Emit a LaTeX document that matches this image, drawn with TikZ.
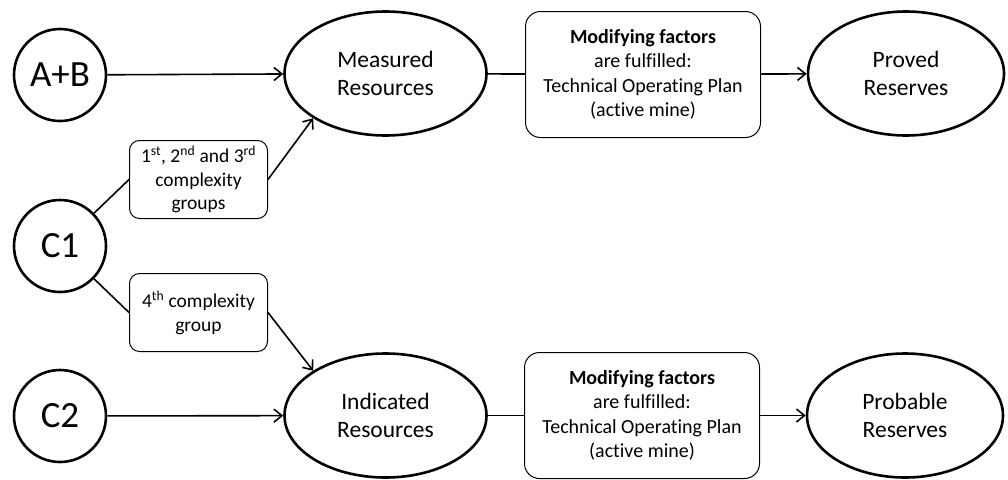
\documentclass[tikz,border=0pt]{standalone}
\usepackage{fontspec}
\setmainfont{Carlito}[Ligatures=NoCommon]
\usetikzlibrary{shapes.geometric,arrows.meta}
\begin{document}
\begin{tikzpicture}[x=1pt,y=-1pt,
  grade/.style={circle,draw,line width=2.6pt,minimum size=92pt,inner sep=0pt,font=\fontsize{37}{40}\selectfont},
  category/.style={ellipse,draw,line width=2.6pt,minimum width=202pt,minimum height=124pt,inner sep=0pt,align=center,font=\fontsize{23.5}{28}\selectfont},
  factorbox/.style={rectangle,draw,rounded corners=15pt,line width=1pt,minimum width=235pt,minimum height=126pt,align=center,font=\fontsize{20}{24.3}\selectfont},
  groupbox/.style={rectangle,draw,rounded corners=10pt,line width=1pt,minimum width=138pt,minimum height=78pt,align=center,font=\fontsize{19.5}{23.5}\selectfont},
  link/.style={line width=1.6pt},
  arrow/.style={link,-{Straight Barb[length=8pt,width=13pt]}}]
\useasboundingbox (0,0) rectangle (1008,479);
\clip (0,0) rectangle (1008,479);
% source grades
\node[grade] (ab) at (60,75){A+B};
\node[grade] (cone) at (60,246){C1};
\node[grade] (ctwo) at (60,416){C2};
% complexity groups
\node[groupbox] (grpA) at (198.5,179.5){1\textsuperscript{st}, 2\textsuperscript{nd} and 3\textsuperscript{rd}\\complexity\\groups};
\node[groupbox] (grpB) at (198.5,312.5){4\textsuperscript{th} complexity\\group};
% resources
\node[category] (meas) at (385.5,73.5){Measured\\Resources};
\node[category] (ind) at (385.5,415.5){Indicated\\Resources};
% modifying factors
\node[factorbox] (modtop) at (643,74.5){\textbf{Modifying factors}\\are fulfilled:\\Technical Operating Plan\\(active mine)};
\node[factorbox] (modbot) at (642,415.5){\textbf{Modifying factors}\\are fulfilled:\\Technical Operating Plan\\(active mine)};
% reserves
\node[category,minimum width=196pt] (proved) at (906,73.5){Proved\\Reserves};
\node[category,minimum width=196pt] (probable) at (905,415.5){Probable\\Reserves};
% connectors
\draw[arrow] (ab) -- (meas);
\draw[arrow] (ctwo) -- (ind);
\draw[link] (cone) -- (grpA.west);
\draw[arrow] (grpA.east) -- (meas.south west);
\draw[link] (cone) -- (grpB.west);
\draw[arrow] (grpB.east) -- (ind.north west);
\draw[link] (meas) -- (modtop);
\draw[arrow] (modtop) -- (proved);
\draw[link] (ind) -- (modbot);
\draw[arrow] (modbot) -- (probable);
\end{tikzpicture}
\end{document}
